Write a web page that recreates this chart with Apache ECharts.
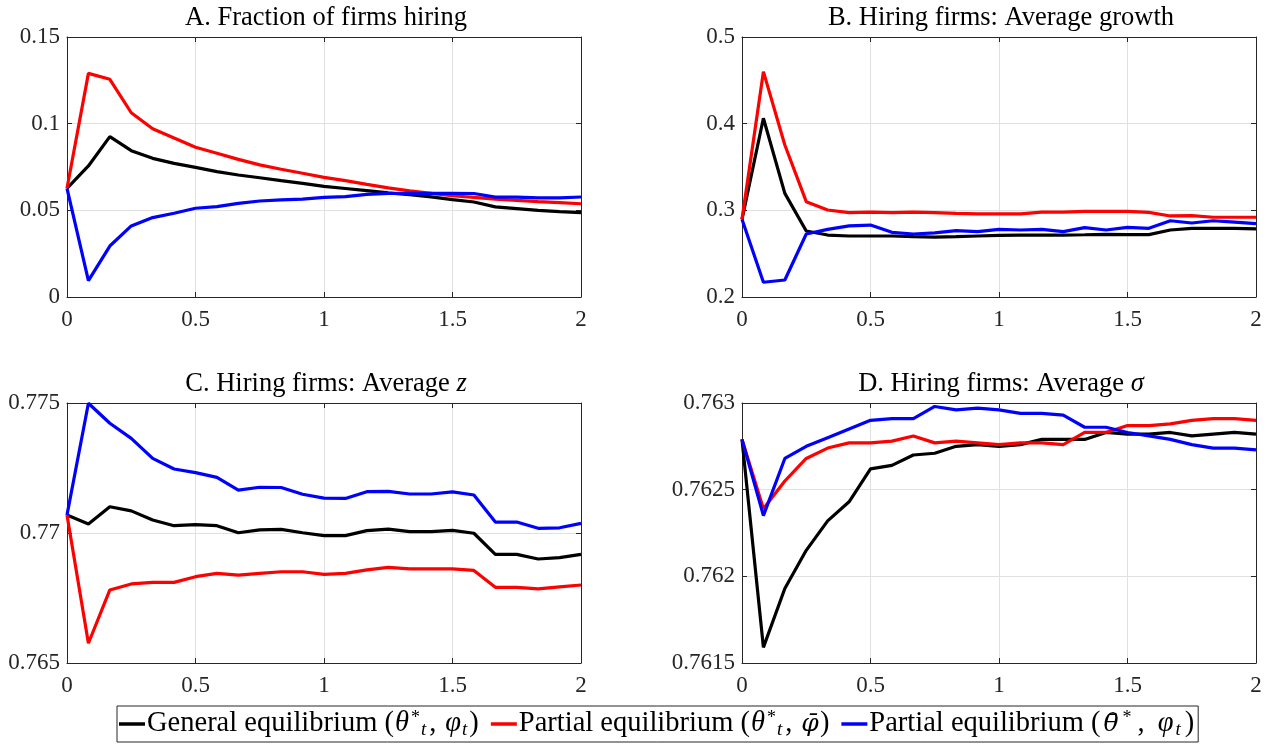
<!DOCTYPE html>
<html>
<head>
<meta charset="utf-8">
<script src="https://cdn.jsdelivr.net/npm/echarts@6/dist/echarts.min.js"></script>
<style>html,body{margin:0;padding:0;background:#fff}#c{width:1276px;height:746px}</style>
</head>
<body>
<div id="c"></div>
<script>
// horizon (years)
var xs = [0, 0.0833, 0.1667, 0.25, 0.3333, 0.4167, 0.5, 0.5833, 0.6667, 0.75, 0.8333, 0.9167, 1, 1.0833, 1.1667, 1.25, 1.3333, 1.4167, 1.5, 1.5833, 1.6667, 1.75, 1.8333, 1.9167, 2];

var seriesNames = ['General equilibrium', 'Partial equilibrium 1', 'Partial equilibrium 2'];
var seriesColors = ['#000000', '#ff0000', '#0000ff'];

// Panel A: Fraction of firms hiring
var aGE  = [0.0627, 0.0756, 0.0925, 0.0844, 0.0800, 0.0771, 0.0748, 0.0723, 0.0704, 0.0688, 0.0671, 0.0656, 0.0638, 0.0626, 0.0614, 0.0601, 0.0590, 0.0578, 0.0562, 0.0548, 0.0520, 0.0510, 0.0500, 0.0492, 0.0487];
var aPE1 = [0.0627, 0.1290, 0.1256, 0.1063, 0.0971, 0.0917, 0.0864, 0.0829, 0.0794, 0.0762, 0.0737, 0.0714, 0.0690, 0.0671, 0.0650, 0.0630, 0.0612, 0.0598, 0.0584, 0.0575, 0.0565, 0.0558, 0.0550, 0.0544, 0.0538];
var aPE2 = [0.0627, 0.0094, 0.0294, 0.0410, 0.0458, 0.0483, 0.0512, 0.0521, 0.0540, 0.0554, 0.0560, 0.0565, 0.0575, 0.0579, 0.0592, 0.0597, 0.0598, 0.0598, 0.0598, 0.0597, 0.0576, 0.0576, 0.0572, 0.0572, 0.0577];

// Panel B: Hiring firms: Average growth
var bGE  = [0.2896, 0.4062, 0.3196, 0.2762, 0.2715, 0.2704, 0.2704, 0.2704, 0.2696, 0.2690, 0.2696, 0.2704, 0.2712, 0.2715, 0.2715, 0.2715, 0.2718, 0.2722, 0.2720, 0.2720, 0.2773, 0.2792, 0.2792, 0.2792, 0.2785];
var bPE1 = [0.2896, 0.4600, 0.3754, 0.3100, 0.3004, 0.2973, 0.2980, 0.2973, 0.2980, 0.2973, 0.2965, 0.2960, 0.2960, 0.2960, 0.2980, 0.2980, 0.2988, 0.2988, 0.2988, 0.2976, 0.2935, 0.2940, 0.2920, 0.2920, 0.2920];
var bPE2 = [0.2896, 0.2170, 0.2196, 0.2727, 0.2780, 0.2820, 0.2830, 0.2746, 0.2727, 0.2740, 0.2765, 0.2754, 0.2780, 0.2773, 0.2780, 0.2754, 0.2800, 0.2773, 0.2804, 0.2792, 0.2880, 0.2854, 0.2880, 0.2865, 0.2846];

// Panel C: Hiring firms: Average z
var cGE  = [0.77069, 0.77035, 0.77101, 0.77085, 0.77050, 0.77028, 0.77032, 0.77028, 0.77001, 0.77012, 0.77014, 0.77001, 0.76990, 0.76990, 0.77009, 0.77015, 0.77005, 0.77005, 0.77010, 0.76999, 0.76918, 0.76918, 0.76900, 0.76905, 0.76918];
var cPE1 = [0.77069, 0.76576, 0.76781, 0.76804, 0.76810, 0.76810, 0.76832, 0.76845, 0.76838, 0.76845, 0.76851, 0.76851, 0.76841, 0.76845, 0.76858, 0.76868, 0.76862, 0.76862, 0.76862, 0.76856, 0.76791, 0.76791, 0.76785, 0.76793, 0.76800];
var cPE2 = [0.77069, 0.77499, 0.77422, 0.77364, 0.77287, 0.77246, 0.77232, 0.77214, 0.77165, 0.77176, 0.77175, 0.77149, 0.77134, 0.77133, 0.77159, 0.77160, 0.77150, 0.77150, 0.77158, 0.77146, 0.77042, 0.77042, 0.77018, 0.77020, 0.77037];

// Panel D: Hiring firms: Average sigma
var dGE  = [0.76279, 0.76159, 0.76193, 0.76215, 0.76232, 0.76243, 0.76262, 0.76264, 0.76270, 0.76271, 0.76275, 0.76276, 0.76275, 0.76276, 0.76279, 0.76279, 0.76279, 0.76283, 0.76282, 0.76282, 0.76283, 0.76281, 0.76282, 0.76283, 0.76282];
var dPE1 = [0.76279, 0.76239, 0.76255, 0.76268, 0.76274, 0.76277, 0.76277, 0.76278, 0.76281, 0.76277, 0.76278, 0.76277, 0.76276, 0.76277, 0.76277, 0.76276, 0.76283, 0.76283, 0.76287, 0.76287, 0.76288, 0.76290, 0.76291, 0.76291, 0.76290];
var dPE2 = [0.76279, 0.76235, 0.76268, 0.76275, 0.76280, 0.76285, 0.76290, 0.76291, 0.76291, 0.76298, 0.76296, 0.76297, 0.76296, 0.76294, 0.76294, 0.76293, 0.76286, 0.76286, 0.76283, 0.76281, 0.76279, 0.76276, 0.76274, 0.76274, 0.76273];

var panelTitles = ['A. Fraction of firms hiring', 'B. Hiring firms: Average growth', 'C. Hiring firms: Average {i|z}', 'D. Hiring firms: Average {i|σ}'];
var yMins = [0, 0.2, 0.765, 0.7615];
var yMaxs = [0.15, 0.5, 0.775, 0.763];
var ySteps = [0.05, 0.1, 0.005, 0.0005];
var xMin = 0, xMax = 2, xStep = 0.5;

var panelData = [[aGE, aPE1, aPE2], [bGE, bPE1, bPE2], [cGE, cPE1, cPE2], [dGE, dPE1, dPE2]];

var FONT = 'Liberation Serif';
var AX = '#262626';
var GRIDC = '#e0e0e0';
var grids = [
  {left: 67, top: 37, width: 514, height: 260},
  {left: 742, top: 37, width: 514, height: 260},
  {left: 67, top: 403, width: 514, height: 260},
  {left: 742, top: 403, width: 514, height: 260}
];

function fmt(v) { return String(+v.toFixed(5)); }

var xAxes = [], yAxes = [], series = [], titles = [];
for (var p = 0; p < 4; p++) {
  xAxes.push({
    type: 'value', gridIndex: p, min: xMin, max: xMax, interval: xStep, position: 'bottom',
    axisLine: {show: true, onZero: false, lineStyle: {color: AX, width: 1}},
    axisTick: {show: true, inside: true, length: 5, lineStyle: {color: AX}},
    axisLabel: {color: AX, fontFamily: FONT, fontSize: 23, margin: 11, formatter: fmt},
    splitLine: {show: true, lineStyle: {color: GRIDC, width: 1}}
  });
  yAxes.push({
    type: 'value', gridIndex: p, min: yMins[p], max: yMaxs[p], interval: ySteps[p], position: 'left',
    axisLine: {show: true, onZero: false, lineStyle: {color: AX, width: 1}},
    axisTick: {show: true, inside: true, length: 5, lineStyle: {color: AX}},
    axisLabel: {color: AX, fontFamily: FONT, fontSize: 23, margin: 7, formatter: fmt},
    splitLine: {show: true, lineStyle: {color: GRIDC, width: 1}}
  });
  var g = grids[p];
  titles.push({
    text: panelTitles[p], left: g.left + g.width / 2 - 3, top: g.top - 37, textAlign: 'center',
    textStyle: {fontFamily: FONT, fontSize: 26.5, fontWeight: 'normal', color: '#000',
      rich: {i: {fontFamily: FONT, fontSize: 26.5, fontStyle: 'italic', color: '#000'}}}
  });
}
for (var p = 0; p < 4; p++) {
  xAxes.push({
    type: 'value', gridIndex: p, min: xMin, max: xMax, interval: xStep, position: 'top',
    axisLine: {show: true, onZero: false, lineStyle: {color: AX, width: 1}},
    axisTick: {show: true, inside: true, length: 5, lineStyle: {color: AX}},
    axisLabel: {show: false}, splitLine: {show: false}
  });
  yAxes.push({
    type: 'value', gridIndex: p, min: yMins[p], max: yMaxs[p], interval: ySteps[p], position: 'right',
    axisLine: {show: true, onZero: false, lineStyle: {color: AX, width: 1}},
    axisTick: {show: true, inside: true, length: 5, lineStyle: {color: AX}},
    axisLabel: {show: false}, splitLine: {show: false}
  });
}
for (var p = 0; p < 4; p++) {
  for (var s = 0; s < 3; s++) {
    var vals = panelData[p][s];
    series.push({
      type: 'line', name: seriesNames[s], xAxisIndex: p, yAxisIndex: p,
      data: xs.map(function (x, i) { return [x, vals[i]]; }),
      symbol: 'none', showSymbol: false, silent: true, z: 2 + s,
      lineStyle: {color: seriesColors[s], width: 3.2},
      itemStyle: {color: seriesColors[s]}
    });
  }
}

var legendLabels = {
  'General equilibrium': '{n|General equilibrium (}{i|θ}{sup|*}{sub|t}{c|,}{i|φ}{sub|t}{n|)}',
  'Partial equilibrium 1': '{n|Partial equilibrium (}{i|θ}{sup|*}{sub|t}{c|,}{b|φ̄}{n|)}',
  'Partial equilibrium 2': '{n|Partial equilibrium (}{b3|θ̄}{sup3|*}{c3|,}{i|φ}{sub3|t}{n|)}'
};

var LF = 28.5;
function tok(extra) {
  var o = {fontFamily: FONT, fontSize: LF, lineHeight: 30, color: '#000'};
  for (var k in extra) o[k] = extra[k];
  return o;
}
var chart = echarts.init(document.getElementById('c'), null, {renderer: 'canvas'});
chart.setOption({
  animation: false,
  backgroundColor: '#ffffff',
  title: titles,
  grid: grids,
  xAxis: xAxes,
  yAxis: yAxes,
  legend: {
    data: seriesNames, left: 117, top: 706, orient: 'horizontal',
    icon: 'rect', itemWidth: 26, itemHeight: 3.5, itemGap: 12,
    padding: [3, 4, 3, 2],
    borderColor: AX, borderWidth: 1, backgroundColor: '#fff',
    selectedMode: false,
    formatter: function (name) { return legendLabels[name]; },
    textStyle: {
      fontFamily: FONT, fontSize: LF, color: '#000', padding: [0, 0, 0, -3],
      rich: {
        n: tok({}),
        c: tok({padding: [0, 8, 0, 1]}),
        c3: tok({padding: [0, 12, 0, 2]}),
        i: tok({fontStyle: 'italic', padding: [0, 1, 0, 1]}),
        b: tok({fontFamily: 'DejaVu Serif', fontSize: 25, fontStyle: 'italic', padding: [0, 1, 0, 1]}),
        b3: tok({fontFamily: 'DejaVu Serif', fontSize: 25, fontStyle: 'italic', padding: [0, 2, 0, 3]}),
        sup: {fontFamily: FONT, fontSize: 18, lineHeight: 17, verticalAlign: 'top', color: '#000', padding: [0, 1, 0, 1]},
        sup3: {fontFamily: FONT, fontSize: 18, lineHeight: 17, verticalAlign: 'top', color: '#000', padding: [0, 4, 0, 2]},
        sub: {fontFamily: FONT, fontSize: 19, lineHeight: 18, fontStyle: 'italic', verticalAlign: 'bottom', color: '#000', padding: [0, 2, 0, 0]},
        sub3: {fontFamily: FONT, fontSize: 19, lineHeight: 18, fontStyle: 'italic', verticalAlign: 'bottom', color: '#000', padding: [0, 4, 0, 1]}
      }
    }
  },
  series: series
});
</script>
</body>
</html>
